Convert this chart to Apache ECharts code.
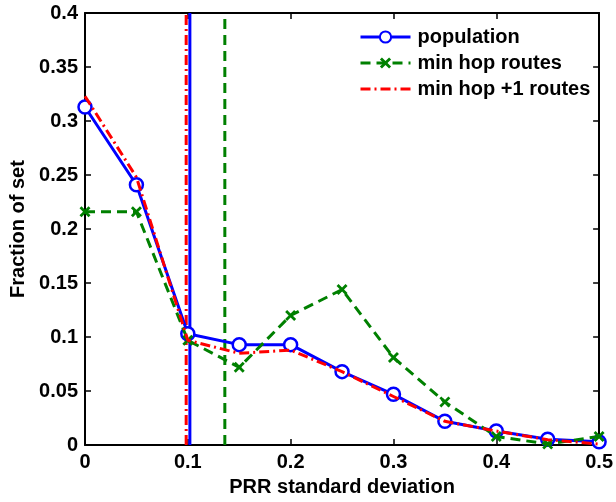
<!DOCTYPE html>
<html>
<head>
<meta charset="utf-8">
<script src="https://cdn.jsdelivr.net/npm/echarts@6/dist/echarts.min.js"></script>
<style>html,body{margin:0;padding:0;background:#fff}#c{width:616px;height:502px}</style>
</head>
<body>
<div id="c"></div>
<script>
const xValues = [0, 0.05, 0.1, 0.15, 0.2, 0.25, 0.3, 0.35, 0.4, 0.45, 0.5];
const population = [0.313, 0.241, 0.103, 0.093, 0.093, 0.068, 0.047, 0.022, 0.013, 0.0055, 0.003];
const minHop = [0.216, 0.216, 0.097, 0.072, 0.120, 0.144, 0.081, 0.040, 0.008, 0.001, 0.008];
const minHopPlus1 = [0.323, 0.248, 0.097, 0.085, 0.088, 0.068, 0.045, 0.022, 0.013, 0.005, 0.001];
const seriesNames = ['population', 'min hop routes', 'min hop +1 routes'];
const meanLines = [0.102, 0.136, 0.0984];
const yRange = [0, 0.4];
const xRange = [0, 0.5];

const pair = arr => xValues.map((x, i) => [x, arr[i]]);
const font = 'Liberation Sans, Arial, sans-serif';
const xPath = 'path://M0,1.8 L1.8,0 L5,3.2 L8.2,0 L10,1.8 L6.8,5 L10,8.2 L8.2,10 L5,6.8 L1.8,10 L0,8.2 L3.2,5 Z';

const colors = ['#0000ff', '#008000', '#ff0000'];
const lineTypes = ['solid', [10, 6], [10, 4, 2, 4]];

function vline(i) {
  return {
    name: 'mean ' + seriesNames[i], type: 'line', silent: true,
    data: [[meanLines[i], yRange[0]], [meanLines[i], yRange[1]]],
    symbol: 'none', z: 2,
    lineStyle: { color: colors[i], width: 3, type: lineTypes[i] }
  };
}

const chart = echarts.init(document.getElementById('c'));
const axisCommon = {
  axisLine: { show: true, onZero: false, lineStyle: { color: '#000', width: 2 } },
  axisTick: { show: true, inside: true, length: 6, lineStyle: { color: '#000', width: 1.5 } },
  splitLine: { show: false }
};
const labelStyle = { fontFamily: font, fontWeight: 'bold', fontSize: 20, color: '#000' };
chart.setOption({
  animation: false,
  backgroundColor: '#fff',
  grid: { left: 81, right: 14, top: 13, bottom: 51 },
  legend: {
    orient: 'vertical', left: 354, top: 22,
    itemWidth: 50, itemHeight: 14, itemGap: 6,
    textStyle: { fontFamily: font, fontWeight: 'bold', fontSize: 20, color: '#000', padding: [0, 0, 0, 2] },
    data: [
      { name: seriesNames[0], lineStyle: { width: 3 } },
      { name: seriesNames[1], lineStyle: { width: 3 } },
      { name: seriesNames[2], lineStyle: { width: 3 }, itemStyle: { opacity: 0 } }
    ]
  },
  xAxis: [
    Object.assign({}, axisCommon, {
      type: 'value', min: xRange[0], max: xRange[1], interval: 0.1,
      name: 'PRR standard deviation', nameLocation: 'middle', nameGap: 30,
      nameTextStyle: labelStyle,
      axisLabel: Object.assign({ margin: 7, formatter: v => String(+v.toFixed(2)) }, labelStyle)
    }),
    Object.assign({}, axisCommon, {
      type: 'value', position: 'top', min: xRange[0], max: xRange[1], interval: 0.1,
      axisLabel: { show: false }
    })
  ],
  yAxis: [
    Object.assign({}, axisCommon, {
      type: 'value', min: yRange[0], max: yRange[1], interval: 0.05,
      name: 'Fraction of set', nameLocation: 'middle', nameGap: 57,
      nameTextStyle: labelStyle,
      axisLabel: Object.assign({ margin: 7, formatter: v => String(+v.toFixed(2)) }, labelStyle)
    }),
    Object.assign({}, axisCommon, {
      type: 'value', position: 'right', min: yRange[0], max: yRange[1], interval: 0.05,
      axisLabel: { show: false }
    })
  ],
  series: [
    {
      name: seriesNames[0], type: 'line', data: pair(population),
      symbol: 'circle', symbolSize: 13, showAllSymbol: true,
      itemStyle: { color: '#fff', borderColor: colors[0], borderWidth: 2.5 },
      lineStyle: { color: colors[0], width: 3, type: lineTypes[0] },
      color: colors[0], z: 3
    },
    {
      name: seriesNames[1], type: 'line', data: pair(minHop),
      symbol: xPath, symbolSize: 11, showAllSymbol: true,
      itemStyle: { color: colors[1] },
      lineStyle: { color: colors[1], width: 3, type: lineTypes[1] },
      color: colors[1], z: 4
    },
    {
      name: seriesNames[2], type: 'line', data: pair(minHopPlus1),
      symbol: 'none',
      lineStyle: { color: colors[2], width: 3, type: lineTypes[2] },
      itemStyle: { color: colors[2] },
      color: colors[2], z: 5
    },
    vline(2), vline(0), vline(1)
  ]
});
</script>
</body>
</html>
